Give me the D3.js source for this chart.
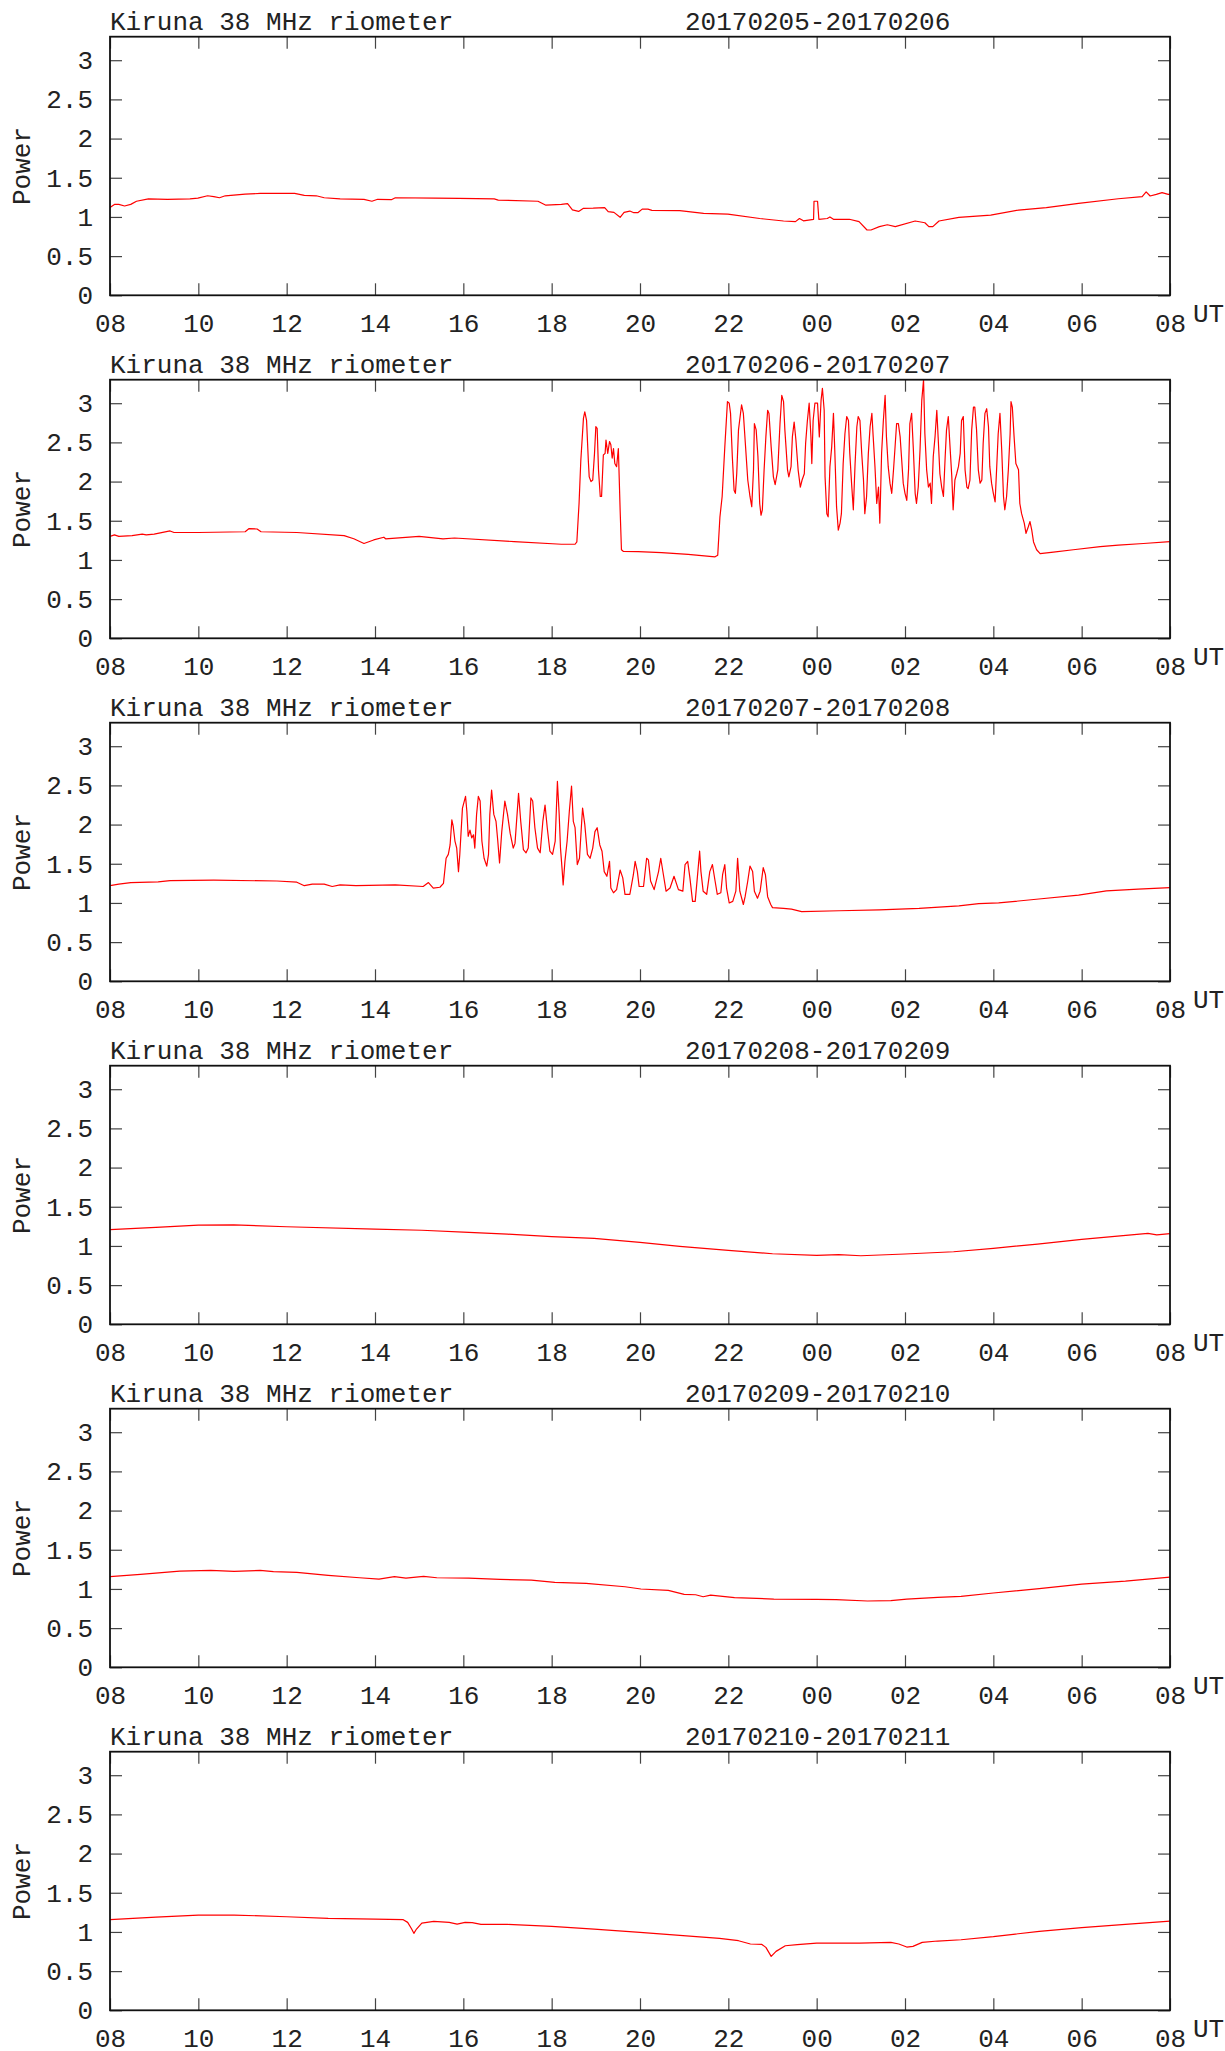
<!DOCTYPE html>
<html>
<head>
<meta charset="utf-8">
<script src="https://cdn.jsdelivr.net/npm/d3@7/dist/d3.min.js"></script>
<style>
  html, body { margin: 0; padding: 0; background: #fff; }
  svg { display: block; }
  text { font-family: "Liberation Mono", "DejaVu Sans Mono", monospace; fill: #222; }
</style>
</head>
<body>
<svg id="chart" width="1225" height="2051"></svg>
<script>
// ---------- data (hours since 08 UT, relative power) ----------
const stationTitle = "Kiruna 38 MHz riometer";
const dateLabels = ["20170205-20170206", "20170206-20170207", "20170207-20170208",
                    "20170208-20170209", "20170209-20170210", "20170210-20170211"];
const xTickHours = [0, 2, 4, 6, 8, 10, 12, 14, 16, 18, 20, 22, 24];
const xTickLabels = ["08", "10", "12", "14", "16", "18", "20", "22", "00", "02", "04", "06", "08"];
const yTickValues = [0, 0.5, 1, 1.5, 2, 2.5, 3];
const yTickLabels = ["0", "0.5", "1", "1.5", "2", "2.5", "3"];

const series1 = [[0,1.12],[0.1,1.16],[0.2,1.16],[0.33,1.14],[0.47,1.16],[0.6,1.2],[0.87,1.23],[1.3,1.225],[1.81,1.23],[1.99,1.24],[2.21,1.27],[2.35,1.26],[2.48,1.245],[2.61,1.27],[3.06,1.29],[3.4,1.3],[3.78,1.3],[4.18,1.3],[4.4,1.275],[4.67,1.27],[4.85,1.245],[5.21,1.23],[5.75,1.225],[5.93,1.2],[6.06,1.225],[6.37,1.22],[6.46,1.245],[7.36,1.24],[7.9,1.237],[8.7,1.23],[8.79,1.215],[9.69,1.2],[9.87,1.15],[10.22,1.16],[10.36,1.17],[10.47,1.09],[10.61,1.07],[10.72,1.11],[10.94,1.113],[11.2,1.12],[11.28,1.067],[11.41,1.058],[11.55,0.995],[11.64,1.058],[11.77,1.075],[11.86,1.054],[11.95,1.054],[12.05,1.1],[12.18,1.1],[12.27,1.084],[12.9,1.08],[13.44,1.045],[13.99,1.037],[14.71,0.98],[15.25,0.948],[15.52,0.94],[15.61,0.98],[15.7,0.95],[15.93,0.97],[15.94,1.2],[16.02,1.2],[16.05,0.97],[16.24,0.98],[16.3,1.0],[16.38,0.97],[16.74,0.97],[16.96,0.94],[17.14,0.833],[17.23,0.833],[17.42,0.876],[17.6,0.9],[17.78,0.876],[18.23,0.948],[18.45,0.926],[18.54,0.876],[18.63,0.876],[18.77,0.948],[19.22,0.995],[19.94,1.024],[20.57,1.088],[21.2,1.12],[21.93,1.173],[22.83,1.232],[23.37,1.258],[23.46,1.32],[23.55,1.267],[23.69,1.288],[23.82,1.31],[23.96,1.288],[24,1.29]];

const series2 = [[0,1.3],[0.1,1.32],[0.2,1.3],[0.5,1.31],[0.73,1.33],[0.82,1.32],[1.0,1.33],[1.36,1.37],[1.45,1.35],[2.0,1.35],[3.06,1.36],[3.15,1.4],[3.33,1.395],[3.42,1.36],[4.23,1.35],[5.3,1.31],[5.52,1.27],[5.75,1.21],[5.97,1.255],[6.2,1.29],[6.24,1.27],[7.0,1.3],[7.54,1.27],[7.8,1.28],[9.15,1.234],[10.22,1.2],[10.53,1.2],[10.57,1.23],[10.62,1.72],[10.66,2.27],[10.72,2.81],[10.75,2.89],[10.79,2.78],[10.83,2.27],[10.85,2.06],[10.89,2.0],[10.93,2.02],[10.97,2.36],[11.0,2.7],[11.03,2.68],[11.06,2.15],[11.1,1.81],[11.13,1.81],[11.17,2.34],[11.21,2.36],[11.23,2.53],[11.27,2.36],[11.31,2.51],[11.34,2.47],[11.37,2.3],[11.4,2.42],[11.43,2.23],[11.47,2.19],[11.51,2.42],[11.55,1.64],[11.58,1.13],[11.62,1.11],[11.96,1.105],[12.49,1.093],[13.09,1.07],[13.7,1.04],[13.76,1.06],[13.81,1.55],[13.86,1.81],[13.92,2.44],[13.98,3.02],[14.02,3.0],[14.05,2.87],[14.09,2.32],[14.13,1.89],[14.16,1.85],[14.19,2.1],[14.23,2.66],[14.3,2.98],[14.34,2.87],[14.38,2.53],[14.44,2.02],[14.49,1.81],[14.53,1.68],[14.57,2.15],[14.59,2.74],[14.63,2.66],[14.67,2.32],[14.71,1.72],[14.74,1.57],[14.77,1.64],[14.81,2.15],[14.85,2.57],[14.89,2.91],[14.92,2.87],[14.97,2.44],[15.02,2.06],[15.06,1.96],[15.12,2.15],[15.17,2.74],[15.21,3.1],[15.25,3.02],[15.28,2.66],[15.34,2.15],[15.37,2.06],[15.42,2.19],[15.45,2.57],[15.49,2.76],[15.53,2.53],[15.58,2.15],[15.63,1.93],[15.67,2.02],[15.72,2.1],[15.75,2.49],[15.79,2.78],[15.83,3.0],[15.87,2.57],[15.89,2.23],[15.92,2.78],[15.96,3.0],[16.02,3.0],[16.06,2.57],[16.1,3.04],[16.13,3.19],[16.17,2.91],[16.19,2.06],[16.23,1.59],[16.26,1.55],[16.3,2.19],[16.34,2.44],[16.38,2.87],[16.41,2.4],[16.45,1.68],[16.49,1.38],[16.53,1.47],[16.56,1.59],[16.6,2.23],[16.64,2.61],[16.68,2.83],[16.72,2.78],[16.75,2.36],[16.79,1.98],[16.83,1.64],[16.87,2.23],[16.91,2.7],[16.94,2.83],[16.98,2.78],[17.02,2.36],[17.06,2.02],[17.09,1.59],[17.13,1.81],[17.17,2.36],[17.21,2.7],[17.25,2.87],[17.28,2.57],[17.32,2.19],[17.36,1.72],[17.4,1.93],[17.43,1.47],[17.47,2.36],[17.51,2.78],[17.55,3.1],[17.58,2.57],[17.62,2.19],[17.66,1.98],[17.7,1.85],[17.74,2.15],[17.77,2.4],[17.81,2.74],[17.85,2.74],[17.89,2.57],[17.92,2.32],[17.96,1.98],[18.0,1.85],[18.04,1.76],[18.08,2.15],[18.11,2.74],[18.15,2.87],[18.19,2.4],[18.23,1.85],[18.26,1.72],[18.3,1.93],[18.34,2.4],[18.38,3.04],[18.42,3.3],[18.45,2.61],[18.49,2.15],[18.53,1.93],[18.57,1.98],[18.6,1.72],[18.64,2.32],[18.68,2.57],[18.72,2.91],[18.75,2.57],[18.79,2.1],[18.83,1.93],[18.87,1.81],[18.91,2.32],[18.94,2.66],[18.98,2.83],[19.02,2.44],[19.06,2.06],[19.09,1.64],[19.13,2.02],[19.17,2.1],[19.21,2.19],[19.25,2.36],[19.28,2.78],[19.32,2.83],[19.36,2.15],[19.4,1.93],[19.43,1.91],[19.47,2.02],[19.51,2.66],[19.55,2.95],[19.58,2.95],[19.62,2.66],[19.66,2.15],[19.7,1.98],[19.74,2.02],[19.77,2.49],[19.81,2.87],[19.85,2.93],[19.89,2.7],[19.92,2.19],[19.96,1.98],[20.0,1.85],[20.04,1.74],[20.08,2.23],[20.11,2.61],[20.15,2.87],[20.19,2.4],[20.23,1.81],[20.26,1.64],[20.3,1.81],[20.34,2.15],[20.38,2.61],[20.4,3.02],[20.43,2.95],[20.47,2.57],[20.51,2.23],[20.57,2.15],[20.6,1.72],[20.64,1.59],[20.7,1.47],[20.74,1.34],[20.79,1.42],[20.83,1.49],[20.87,1.38],[20.91,1.23],[20.98,1.13],[21.06,1.08],[21.36,1.1],[21.81,1.13],[22.42,1.17],[22.83,1.19],[23.4,1.21],[24,1.234]];

const series3 = [[0,1.22],[0.2,1.24],[0.47,1.26],[1.09,1.27],[1.36,1.285],[2.35,1.29],[3.78,1.28],[4.23,1.265],[4.4,1.22],[4.58,1.24],[4.85,1.24],[5.03,1.21],[5.21,1.23],[5.57,1.22],[6.46,1.23],[7.09,1.21],[7.21,1.26],[7.32,1.19],[7.47,1.2],[7.55,1.25],[7.61,1.57],[7.66,1.62],[7.7,1.74],[7.74,2.06],[7.77,1.98],[7.81,1.79],[7.85,1.7],[7.89,1.4],[7.92,1.62],[7.98,2.21],[8.05,2.36],[8.08,2.17],[8.11,1.85],[8.15,1.93],[8.19,1.83],[8.23,1.87],[8.26,1.7],[8.3,2.13],[8.34,2.36],[8.38,2.3],[8.42,1.79],[8.47,1.57],[8.53,1.47],[8.57,1.62],[8.6,2.13],[8.64,2.44],[8.69,2.13],[8.74,2.04],[8.78,1.79],[8.82,1.51],[8.87,1.91],[8.94,2.3],[9.0,2.13],[9.06,1.89],[9.13,1.7],[9.17,1.76],[9.25,2.4],[9.3,2.04],[9.36,1.68],[9.42,1.64],[9.47,1.7],[9.53,2.34],[9.57,2.3],[9.62,1.96],[9.68,1.7],[9.74,1.64],[9.8,2.04],[9.85,2.25],[9.9,1.96],[9.96,1.66],[10.02,1.62],[10.08,1.79],[10.13,2.55],[10.17,2.13],[10.2,1.7],[10.24,1.4],[10.26,1.23],[10.3,1.53],[10.35,1.79],[10.4,2.17],[10.45,2.49],[10.49,2.04],[10.53,1.96],[10.58,1.49],[10.63,1.57],[10.68,2.04],[10.7,2.21],[10.75,2.0],[10.81,1.62],[10.87,1.57],[10.93,1.7],[10.98,1.91],[11.03,1.96],[11.09,1.74],[11.14,1.66],[11.19,1.4],[11.25,1.34],[11.31,1.53],[11.34,1.19],[11.4,1.13],[11.47,1.17],[11.55,1.42],[11.61,1.32],[11.66,1.11],[11.77,1.11],[11.85,1.36],[11.89,1.53],[11.94,1.4],[11.98,1.21],[12.08,1.21],[12.15,1.57],[12.19,1.55],[12.24,1.28],[12.32,1.17],[12.42,1.4],[12.47,1.57],[12.53,1.36],[12.59,1.15],[12.68,1.19],[12.77,1.34],[12.87,1.17],[12.97,1.15],[13.02,1.49],[13.08,1.53],[13.13,1.32],[13.19,1.02],[13.25,1.02],[13.31,1.4],[13.35,1.66],[13.38,1.4],[13.43,1.15],[13.51,1.11],[13.58,1.4],[13.64,1.49],[13.7,1.28],[13.75,1.11],[13.83,1.13],[13.87,1.36],[13.92,1.49],[13.96,1.19],[14.02,1.0],[14.1,1.02],[14.17,1.15],[14.21,1.57],[14.26,1.15],[14.34,0.98],[14.38,1.08],[14.44,1.28],[14.49,1.47],[14.55,1.4],[14.59,1.15],[14.66,1.06],[14.72,1.15],[14.79,1.45],[14.84,1.36],[14.89,1.08],[14.96,0.98],[15.0,0.94],[15.25,0.93],[15.43,0.92],[15.66,0.89],[16.51,0.9],[17.42,0.912],[18.32,0.93],[19.22,0.963],[19.67,0.99],[20.12,1.0],[21.03,1.05],[21.93,1.1],[22.56,1.154],[23.28,1.175],[24,1.196]];

const series4 = [[0,1.207],[1.04,1.237],[2,1.266],[2.8,1.27],[4,1.245],[6,1.215],[7.06,1.2],[8,1.177],[9,1.15],[10,1.12],[10.96,1.096],[12,1.045],[12.9,0.994],[14,0.943],[15,0.9],[16,0.88],[16.5,0.888],[17,0.875],[18,0.897],[19.1,0.926],[20,0.969],[21,1.024],[22,1.084],[23,1.135],[23.5,1.16],[23.7,1.14],[24,1.156]];

const series5 = [[0,1.156],[0.69,1.186],[1.58,1.228],[2.28,1.237],[2.81,1.224],[3.4,1.237],[3.7,1.22],[4.23,1.211],[4.94,1.173],[5.65,1.143],[6.09,1.126],[6.44,1.156],[6.7,1.139],[7.1,1.16],[7.4,1.143],[8.12,1.139],[8.83,1.122],[9.54,1.113],[10.07,1.084],[10.78,1.071],[11.66,1.028],[12.02,0.999],[12.64,0.982],[13,0.93],[13.26,0.926],[13.43,0.9],[13.6,0.922],[14.14,0.888],[15.03,0.871],[16,0.867],[16.44,0.863],[17.15,0.846],[17.68,0.85],[18.04,0.871],[18.74,0.892],[19.27,0.905],[20,0.948],[21.04,1.003],[22,1.062],[22.99,1.1],[24,1.152]];

const series6 = [[0,1.156],[1.04,1.19],[2,1.215],[2.81,1.215],[4,1.194],[4.94,1.173],[6,1.164],[6.64,1.156],[6.74,1.122],[6.83,1.037],[6.88,0.982],[6.94,1.037],[7.06,1.113],[7.33,1.135],[7.68,1.122],[7.86,1.1],[8.04,1.122],[8.2,1.118],[8.4,1.096],[9,1.096],[10,1.071],[10.96,1.037],[12,0.994],[12.9,0.956],[13.8,0.918],[14.23,0.888],[14.5,0.846],[14.76,0.841],[14.85,0.803],[14.97,0.688],[15.08,0.752],[15.29,0.824],[15.56,0.837],[16,0.858],[16.97,0.858],[17.68,0.867],[17.86,0.846],[18.04,0.807],[18.18,0.816],[18.39,0.867],[18.74,0.884],[19.27,0.9],[20,0.939],[20.5,0.973],[21.04,1.007],[22,1.054],[22.99,1.096],[24,1.139]];

const allSeries = [series1, series2, series3, series4, series5, series6];

// ---------- layout ----------
const left = 110, right = 1170;
const firstTop = 36.7, panelStep = 343, plotH = 258.6;
const tickLen = 12;
const fontSize = 26;

const svg = d3.select("#chart");
svg.append("rect").attr("width", 1225).attr("height", 2051).attr("fill", "#fff");

allSeries.forEach((data, i) => {
  const top = firstTop + panelStep * i;
  const bottom = top + plotH;
  const x = d3.scaleLinear().domain([0, 24]).range([left, right]);
  const y = d3.scaleLinear().domain([0, 3.3]).range([bottom, top]);

  const g = svg.append("g");

  // clip
  const cid = "clip" + i;
  g.append("clipPath").attr("id", cid)
    .append("rect").attr("x", left).attr("y", top).attr("width", right - left).attr("height", plotH);

  // data line
  g.append("path")
    .datum(data)
    .attr("clip-path", `url(#${cid})`)
    .attr("fill", "none")
    .attr("stroke", "#ff0000")
    .attr("stroke-width", 1.2)
    .attr("stroke-linejoin", "round")
    .attr("d", d3.line().x(d => x(d[0])).y(d => y(d[1])));

  // axes (inward ticks on all four sides)
  const fmtX = (d) => xTickLabels[xTickHours.indexOf(d)];
  const fmtY = (d) => yTickLabels[yTickValues.indexOf(d)];

  const bottomAxis = g.append("g").attr("transform", `translate(0,${bottom})`)
    .call(d3.axisBottom(x).tickValues(xTickHours).tickFormat(fmtX)
      .tickSizeInner(-tickLen).tickSizeOuter(0).tickPadding(18.5));
  const topAxis = g.append("g").attr("transform", `translate(0,${top})`)
    .call(d3.axisTop(x).tickValues(xTickHours).tickFormat("")
      .tickSizeInner(-tickLen).tickSizeOuter(0));
  const leftAxis = g.append("g").attr("transform", `translate(${left},0)`)
    .call(d3.axisLeft(y).tickValues(yTickValues).tickFormat(fmtY)
      .tickSizeInner(-tickLen).tickSizeOuter(0).tickPadding(17));
  const rightAxis = g.append("g").attr("transform", `translate(${right},0)`)
    .call(d3.axisRight(y).tickValues(yTickValues).tickFormat("")
      .tickSizeInner(-tickLen).tickSizeOuter(0));

  [bottomAxis, topAxis, leftAxis, rightAxis].forEach(a => {
    a.select(".domain").remove();
    a.selectAll(".tick line").attr("stroke", "#444").attr("stroke-width", 1.2);
    a.selectAll("text")
      .attr("font-family", '"Liberation Mono", monospace')
      .attr("font-size", fontSize)
      .attr("fill", "#222");
  });

  // frame
  g.append("rect")
    .attr("x", left).attr("y", top)
    .attr("width", right - left).attr("height", plotH)
    .attr("fill", "none").attr("stroke", "#111").attr("stroke-width", 1.8);

  // titles
  g.append("text").attr("x", left).attr("y", top - 6.5)
    .attr("font-size", fontSize).text(stationTitle);
  g.append("text").attr("x", 685).attr("y", top - 6.5)
    .attr("font-size", fontSize).text(dateLabels[i]);

  // y label
  g.append("text")
    .attr("transform", `translate(29.5,${(top + bottom) / 2}) rotate(-90)`)
    .attr("text-anchor", "middle")
    .attr("font-size", fontSize).text("Power");

  // UT label
  g.append("text").attr("x", 1193).attr("y", bottom + 26.5)
    .attr("font-size", fontSize).text("UT");
});
</script>
</body>
</html>
